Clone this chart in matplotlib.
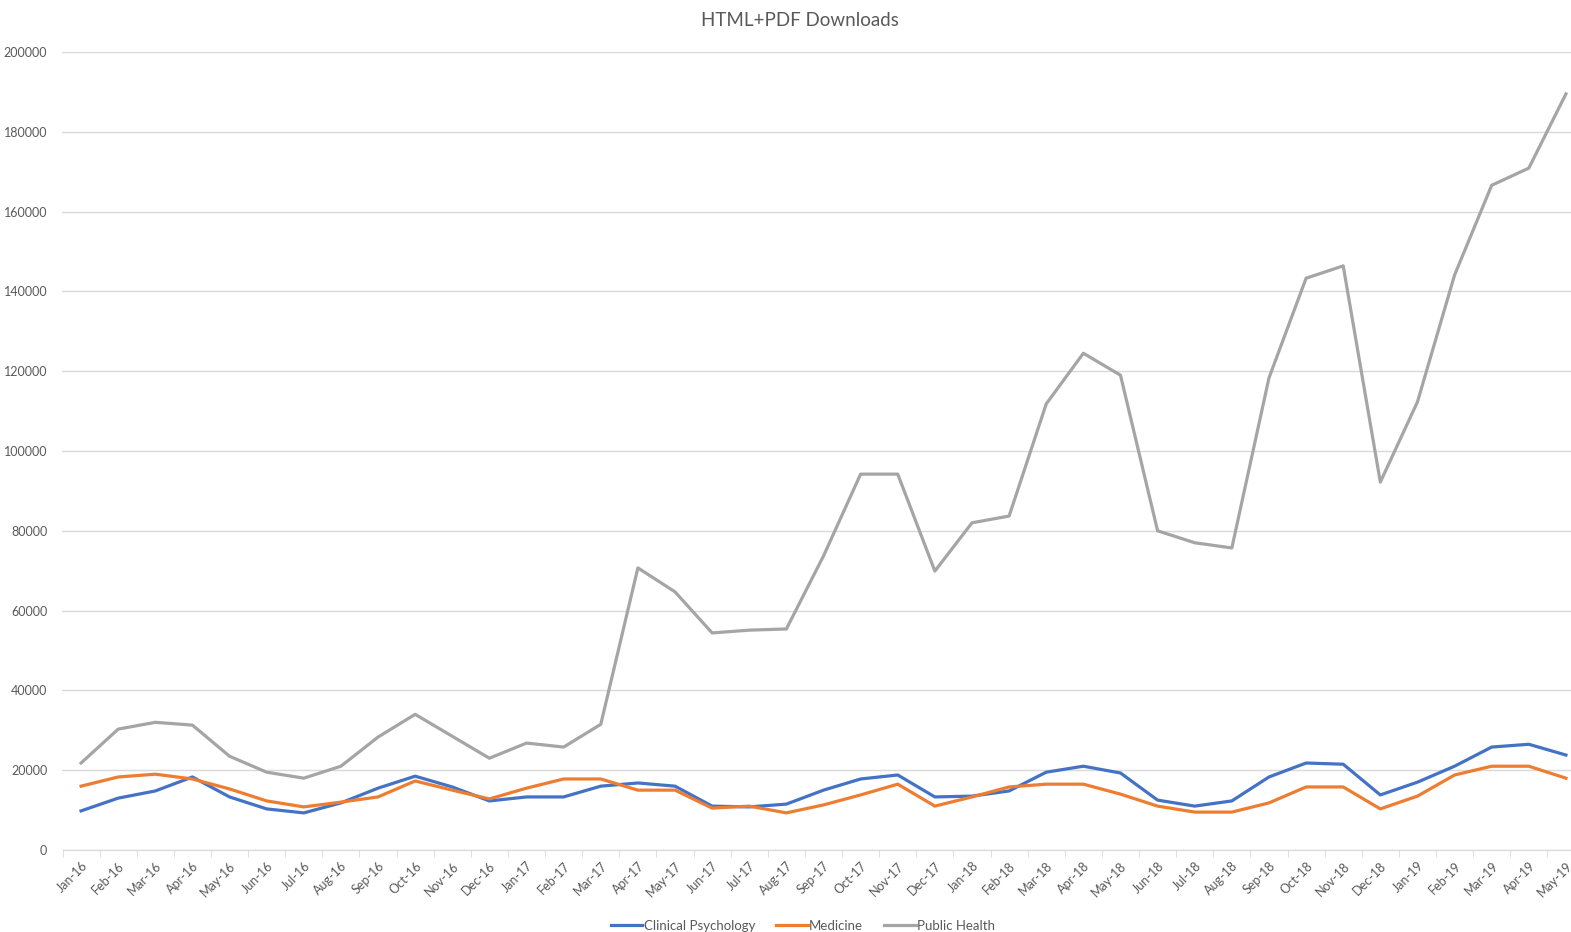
import numpy as np
import matplotlib.pyplot as plt

# Monthly downloads, Jan-16 .. May-19
months = ['Jan-16', 'Feb-16', 'Mar-16', 'Apr-16', 'May-16', 'Jun-16', 'Jul-16', 'Aug-16',
          'Sep-16', 'Oct-16', 'Nov-16', 'Dec-16', 'Jan-17', 'Feb-17', 'Mar-17', 'Apr-17',
          'May-17', 'Jun-17', 'Jul-17', 'Aug-17', 'Sep-17', 'Oct-17', 'Nov-17', 'Dec-17',
          'Jan-18', 'Feb-18', 'Mar-18', 'Apr-18', 'May-18', 'Jun-18', 'Jul-18', 'Aug-18',
          'Sep-18', 'Oct-18', 'Nov-18', 'Dec-18', 'Jan-19', 'Feb-19', 'Mar-19', 'Apr-19',
          'May-19']

clinical_psychology = [9800, 13000, 14800, 18300, 13300, 10300, 9300, 11800, 15500, 18500,
                       15800, 12300, 13300, 13300, 16000, 16800, 16000, 11000, 10800, 11500,
                       15000, 17800, 18800, 13300, 13500, 14800, 19500, 21000, 19300, 12500,
                       11000, 12300, 18300, 21800, 21500, 13800, 17000, 21000, 25800, 26500,
                       23800]

medicine = [16000, 18300, 19000, 17800, 15300, 12300, 10800, 12000, 13300, 17300,
            15000, 12800, 15500, 17800, 17800, 15000, 15000, 10500, 11000, 9300,
            11300, 13800, 16500, 11000, 13300, 15800, 16500, 16500, 14000, 11000,
            9500, 9500, 11800, 15800, 15800, 10300, 13500, 18800, 21000, 21000,
            18000]

public_health = [21800, 30300, 32000, 31300, 23500, 19500, 18000, 21000, 28300, 34000,
                 28500, 23000, 26800, 25800, 31500, 70700, 64700, 54400, 55100, 55400,
                 73700, 94200, 94200, 69900, 82000, 83700, 111800, 124500, 119000, 80000,
                 77000, 75700, 118300, 143300, 146400, 92200, 112300, 144100, 166600, 170900,
                 189500]

plt.rcParams['font.family'] = ['Lato', 'DejaVu Sans']
text_grey = '#595959'

fig = plt.figure(figsize=(15.71, 9.32), dpi=100)
# axes run past the right edge, the reference is cropped there
ax = fig.add_axes([62.5 / 1571, 82 / 932, 1522 / 1571, 798 / 932])

x = np.arange(len(months))
ax.plot(x, clinical_psychology, color='#4472C4', lw=2.3, label='Clinical Psychology')
ax.plot(x, medicine, color='#ED7D31', lw=2.3, label='Medicine')
ax.plot(x, public_health, color='#A5A5A5', lw=2.3, label='Public Health')

ax.set_xlim(-0.5, len(months) - 0.5)
ax.set_ylim(0, 200000)
ax.set_yticks(np.arange(0, 200001, 20000))
ax.grid(axis='y', color='#D9D9D9', lw=1)
ax.set_axisbelow(True)

ax.set_xticks(x)
ax.set_xticklabels(months, rotation=45, ha='right', rotation_mode='anchor')
ax.set_xticks(np.arange(-0.5, len(months)), minor=True)
ax.tick_params(axis='x', which='major', length=0, pad=7, labelsize=9, labelcolor=text_grey)
ax.tick_params(axis='x', which='minor', length=5, color='#D9D9D9')
ax.tick_params(axis='y', length=0, pad=11, labelsize=9, labelcolor=text_grey)

for side in ['top', 'right', 'left']:
    ax.spines[side].set_visible(False)
ax.spines['bottom'].set_color('#D9D9D9')

fig.text(800 / 1571, 1 - 20 / 932, 'HTML+PDF Downloads', ha='center', va='center',
         fontsize=13.5, color=text_grey)

fig.legend(loc='center', bbox_to_anchor=(803 / 1571, 1 - 926 / 932), ncol=3, frameon=False,
           fontsize=9.5, labelcolor=text_grey, handlelength=2.4, handletextpad=0.1,
           columnspacing=1.6)

fig.savefig('out.png', dpi=100)
